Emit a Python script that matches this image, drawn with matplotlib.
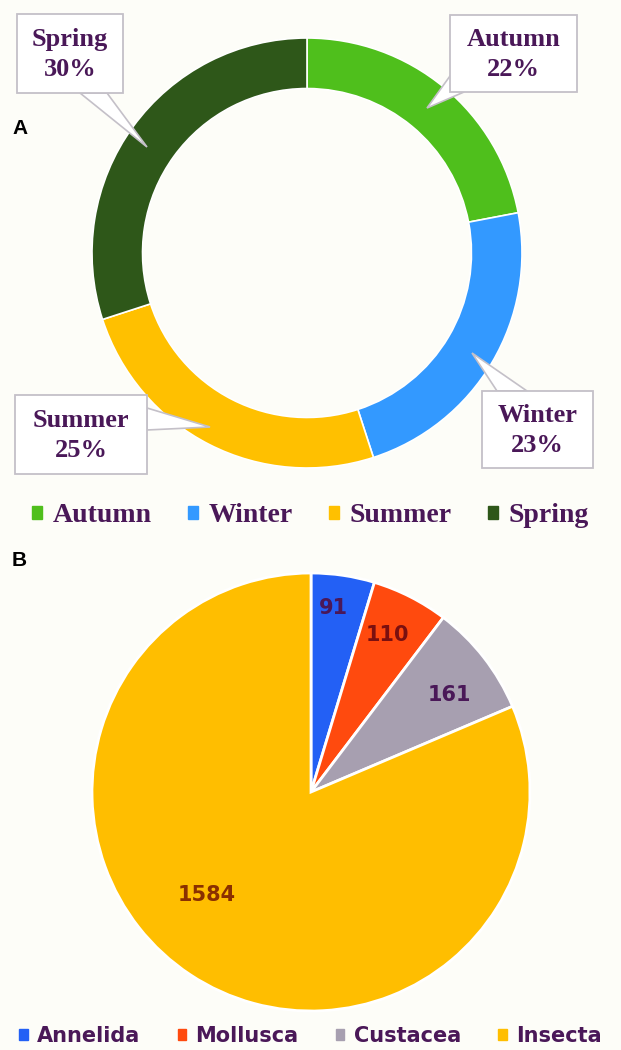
import numpy as np
import matplotlib.pyplot as plt
from matplotlib.patches import Patch, Rectangle, Polygon

# seasonal share (%) for panel A
seasons = ['Autumn', 'Winter', 'Summer', 'Spring']
season_pct = [22, 23, 25, 30]
season_colors = ['#4fbf1c', '#3399ff', '#ffc000', '#2e5719']

# counts per taxon for panel B
taxa = ['Annelida', 'Mollusca', 'Custacea', 'Insecta']
taxa_counts = [91, 110, 161, 1584]
taxa_colors = ['#2360f5', '#ff4a0e', '#a79fb0', '#ffbe00']

bg = '#fdfdf8'
purple = '#4a1858'
box_edge = '#c4c0c8'

W, H = 621, 1050
fig = plt.figure(figsize=(W / 100, H / 100), dpi=100, facecolor=bg)


def axes_for(cx, cy, r):
    return fig.add_axes([(cx - r) / W, 1 - (cy + r) / H, 2 * r / W, 2 * r / H])


# ---- A: donut ----
A_CX, A_CY, A_R = 307, 253, 215
axA = axes_for(A_CX, A_CY, A_R)
axA.pie(season_pct, colors=season_colors, startangle=90, counterclock=False,
        radius=1, wedgeprops=dict(width=0.235, edgecolor='white', linewidth=1.2))
axA.set_xlim(-1, 1)
axA.set_ylim(-1, 1)
axA.set_aspect('equal')
axA.axis('off')


def pa(px, py):
    # pixel position -> donut axes units
    return ((px - A_CX) / A_R, (A_CY - py) / A_R)


# callout layout in pixels: box (x0, y0, x1, y1), tail base points, tail tip
callouts = {
    'Autumn': ((450, 15, 577, 92), [(450, 76), (464, 92)], (427, 108)),
    'Winter': ((482, 391, 593, 468), [(497, 391), (527, 391)], (472, 353)),
    'Summer': ((15, 395, 147, 474), [(147, 408), (147, 430)], (210, 427)),
    'Spring': ((17, 14, 123, 93), [(80, 93), (107, 93)], (147, 147)),
}
for name, pct in zip(seasons, season_pct):
    (x0, y0, x1, y1), base, tip = callouts[name]
    tail = [pa(*base[0]), pa(*tip), pa(*base[1])]
    axA.add_patch(Polygon(tail, closed=True, fc='white', ec=box_edge, lw=1.2,
                          zorder=3, clip_on=False))
    bx0, by1 = pa(x0, y0)
    bx1, by0 = pa(x1, y1)
    axA.add_patch(Rectangle((bx0, by0), bx1 - bx0, by1 - by0, fc='white', ec=box_edge,
                            lw=1.3, zorder=4, clip_on=False))
    cx, cy = pa((x0 + x1) / 2, (y0 + y1) / 2 + 1)
    axA.text(cx, cy, f'{name}\n{pct}%', ha='center', va='center', zorder=5,
             fontsize=19, fontweight='bold', family='Liberation Serif', color=purple,
             linespacing=1.4, clip_on=False)

fig.legend(handles=[Patch(color=c, label=s) for s, c in zip(seasons, season_colors)],
           loc='center', bbox_to_anchor=(0.5, 1 - 516 / H), ncol=4, frameon=False,
           handlelength=0.35, handleheight=0.35, handletextpad=0.4, columnspacing=1.3,
           prop=dict(family='Liberation Serif', weight='bold', size=20),
           labelcolor=purple)

# ---- B: pie ----
axB = axes_for(311, 792, 219)
wedges, _ = axB.pie(taxa_counts, colors=taxa_colors, startangle=90, counterclock=False,
                    radius=1, wedgeprops=dict(edgecolor='white', linewidth=2))
axB.set_xlim(-1, 1)
axB.set_ylim(-1, 1)
axB.set_aspect('equal')
axB.axis('off')

label_colors = [purple, '#7a1010', purple, '#8a3000']
label_r = [0.845, 0.80, 0.77, 0.67]
label_shift = [1.6, 1, -3, -12]
for w, n, c, r, s in zip(wedges, taxa_counts, label_colors, label_r, label_shift):
    ang = np.deg2rad((w.theta1 + w.theta2) / 2 + s)
    axB.text(r * np.cos(ang), r * np.sin(ang), str(n), ha='center', va='center',
             fontsize=15, fontweight='bold', color=c, family='DejaVu Sans')

fig.legend(handles=[Patch(color=c, label=t) for t, c in zip(taxa, taxa_colors)],
           loc='center', bbox_to_anchor=(0.5, 1 - 1036 / H), ncol=4, frameon=False,
           handlelength=0.4, handleheight=0.4, handletextpad=0.45, columnspacing=1.8,
           prop=dict(family='DejaVu Sans', weight='bold', size=15),
           labelcolor=purple)

fig.text(12 / W, 1 - 128 / H, 'A', fontsize=15, fontweight='bold', ha='left', va='center',
         family='Liberation Sans')
fig.text(12 / W, 1 - 560 / H, 'B', fontsize=15, fontweight='bold', ha='left', va='center',
         family='Liberation Sans')

fig.savefig('out.png', dpi=100, facecolor=bg)
